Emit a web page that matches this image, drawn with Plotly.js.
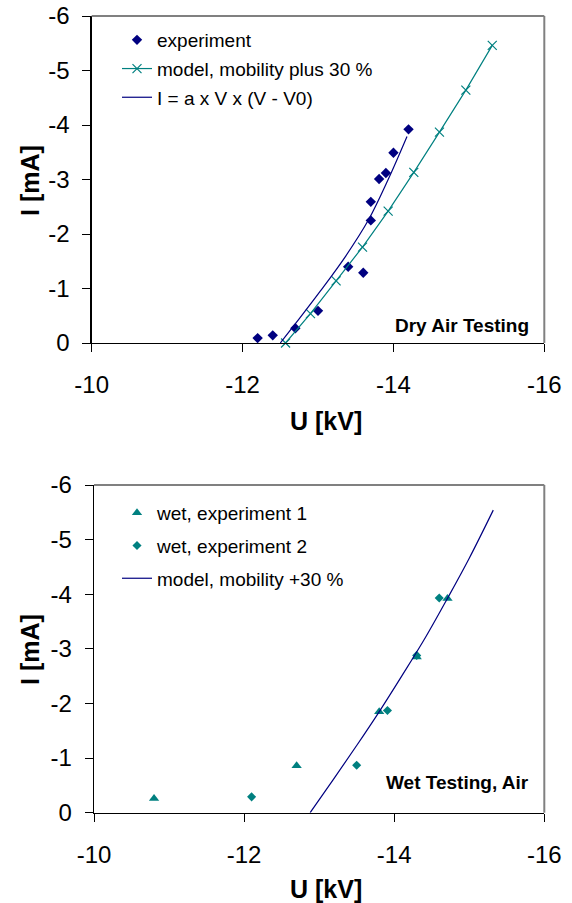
<!DOCTYPE html>
<html>
<head>
<meta charset="utf-8">
<script src="https://cdn.plot.ly/plotly-3.0.1.min.js"></script>
<style>html,body{margin:0;padding:0;background:#fff;}#chart{width:572px;height:903px;}</style>
</head>
<body>
<div id="chart"></div>
<script>
// ---- Top chart: Dry Air Testing ----
var dryExpU = [-12.20, -12.40, -12.70, -13.00, -13.40, -13.60, -13.70, -13.70, -13.81, -13.90, -14.00, -14.20];
var dryExpI = [-0.09, -0.14, -0.27, -0.59, -1.40, -1.29, -2.25, -2.59, -3.01, -3.12, -3.49, -3.92];
var dryModelU = [-12.57, -12.90, -13.24, -13.59, -13.93, -14.27, -14.61, -14.96, -15.31];
var dryModelI = [0, -0.54, -1.14, -1.76, -2.42, -3.13, -3.87, -4.64, -5.46];
var dryFitU = [-12.50, -12.76, -13.03, -13.37, -13.67, -13.93, -14.18];
var dryFitI = [0, -0.46, -0.95, -1.60, -2.26, -3.00, -3.79];

// ---- Bottom chart: Wet Testing, Air ----
var wet1U = [-10.80, -12.70, -13.80, -14.30, -14.71];
var wet1I = [-0.26, -0.86, -1.85, -2.85, -3.92];
var wet2U = [-12.10, -13.50, -13.91, -14.30, -14.60];
var wet2I = [-0.29, -0.87, -1.87, -2.88, -3.93];
var wetModelU = [-12.88, -13.19, -13.50, -13.81, -14.10, -14.40, -14.70, -15.00, -15.32];
var wetModelI = [0, -0.61, -1.23, -1.87, -2.50, -3.17, -3.90, -4.66, -5.54];

// ---- tick labels / texts ----
var xTicks = [-10, -12, -14, -16];
var yTicks = [0, -1, -2, -3, -4, -5, -6];
var xTitle = 'U [kV]';
var yTitle = 'I [mA]';

var NAVY = '#000080', TEAL = '#008080';
var FONT = 'Liberation Sans, Arial, sans-serif';
var W = 572, H = 903;
function px(x) { return x / W; }
function py(y) { return 1 - y / H; }

var traces = [
  {x: dryExpU, y: dryExpI, xaxis: 'x', yaxis: 'y', mode: 'markers', name: 'experiment',
   marker: {symbol: 'diamond', size: 8, color: NAVY}, legend: 'legend', legendgroup: 'a', cliponaxis: false},
  {x: dryModelU, y: dryModelI, xaxis: 'x', yaxis: 'y', mode: 'lines+markers', name: 'model, mobility plus 30 %',
   line: {color: TEAL, width: 1.2}, marker: {symbol: 'x-thin-open', size: 9, color: TEAL, line: {color: TEAL, width: 1.2}},
   legend: 'legend', legendgroup: 'b', cliponaxis: false},
  {x: dryFitU, y: dryFitI, xaxis: 'x', yaxis: 'y', mode: 'lines', name: 'I = a x V x (V - V0)',
   line: {color: NAVY, width: 1.2, shape: 'spline', smoothing: 1}, legend: 'legend', legendgroup: 'c'},

  {x: wet1U, y: wet1I, xaxis: 'x2', yaxis: 'y2', mode: 'markers', name: 'wet, experiment 1',
   marker: {symbol: 'triangle-up', size: 9, color: TEAL}, legend: 'legend2', legendgroup: 'd'},
  {x: wet2U, y: wet2I, xaxis: 'x2', yaxis: 'y2', mode: 'markers', name: 'wet, experiment 2',
   marker: {symbol: 'diamond', size: 7, color: TEAL}, legend: 'legend2', legendgroup: 'e'},
  {x: wetModelU, y: wetModelI, xaxis: 'x2', yaxis: 'y2', mode: 'lines', name: 'model, mobility +30 %',
   line: {color: NAVY, width: 1.2, shape: 'spline', smoothing: 1}, legend: 'legend2', legendgroup: 'f'}
];

function xax(domain, anchor) {
  return {domain: domain, anchor: anchor, range: [-10, -16], tickmode: 'array', tickvals: xTicks,
    ticktext: xTicks.map(String), showgrid: false, zeroline: false, showline: true, linecolor: '#000', linewidth: 1.3,
    ticks: 'outside', ticklen: 8, tickcolor: '#000', tickwidth: 1, ticklabelstandoff: 12,
    tickfont: {family: FONT, size: 24, color: '#000'}};
}
function yax(domain, anchor) {
  return {domain: domain, anchor: anchor, range: [0, -6], tickmode: 'array', tickvals: yTicks,
    ticktext: yTicks.map(String), showgrid: false, zeroline: false, showline: true, linecolor: '#000', linewidth: 1.3,
    ticks: 'outside', ticklen: 8, tickcolor: '#000', tickwidth: 1, ticklabelstandoff: 8,
    tickfont: {family: FONT, size: 24, color: '#000'}};
}

var grey = {color: '#808080', width: 2};
var layout = {
  width: W, height: H, margin: {l: 0, r: 0, t: 0, b: 0},
  paper_bgcolor: '#fff', plot_bgcolor: '#fff', showlegend: true,
  font: {family: FONT, color: '#000'},
  xaxis: xax([px(91.7), px(544.3)], 'y'),
  yaxis: yax([py(343), py(16)], 'x'),
  xaxis2: xax([px(94), px(544.3)], 'y2'),
  yaxis2: yax([py(812.7), py(485)], 'x2'),
  legend: {x: px(117), y: py(21), xanchor: 'left', yanchor: 'top', bgcolor: 'rgba(0,0,0,0)', borderwidth: 0,
    font: {family: FONT, size: 19, color: '#000'}, tracegroupgap: 1},
  legend2: {x: px(117), y: py(494), xanchor: 'left', yanchor: 'top', bgcolor: 'rgba(0,0,0,0)', borderwidth: 0,
    font: {family: FONT, size: 19, color: '#000'}, tracegroupgap: 5},
  shapes: [
    {type: 'line', xref: 'x domain', yref: 'y domain', x0: 0, x1: 1, y0: 1, y1: 1, line: grey},
    {type: 'line', xref: 'x domain', yref: 'y domain', x0: 1, x1: 1, y0: 0, y1: 1, line: grey},
    {type: 'line', xref: 'x2 domain', yref: 'y2 domain', x0: 0, x1: 1, y0: 1, y1: 1, line: grey},
    {type: 'line', xref: 'x2 domain', yref: 'y2 domain', x0: 1, x1: 1, y0: 0, y1: 1, line: grey}
  ],
  annotations: [
    {text: '<b>Dry Air Testing</b>', xref: 'paper', yref: 'paper', x: px(531), y: py(325.5), xanchor: 'right', yanchor: 'middle',
     showarrow: false, font: {family: FONT, size: 19, color: '#000'}},
    {text: '<b>Wet Testing, Air</b>', xref: 'paper', yref: 'paper', x: px(531), y: py(782.5), xanchor: 'right', yanchor: 'middle',
     showarrow: false, font: {family: FONT, size: 19, color: '#000'}},
    {text: '<b>' + xTitle + '</b>', xref: 'paper', yref: 'paper', x: px(326), y: py(421), xanchor: 'center', yanchor: 'middle',
     showarrow: false, font: {family: FONT, size: 25, color: '#000'}},
    {text: '<b>' + xTitle + '</b>', xref: 'paper', yref: 'paper', x: px(326), y: py(889), xanchor: 'center', yanchor: 'middle',
     showarrow: false, font: {family: FONT, size: 25, color: '#000'}},
    {text: '<b>' + yTitle + '</b>', xref: 'paper', yref: 'paper', x: px(30), y: py(181), xanchor: 'center', yanchor: 'middle',
     textangle: -90, showarrow: false, font: {family: FONT, size: 25, color: '#000'}},
    {text: '<b>' + yTitle + '</b>', xref: 'paper', yref: 'paper', x: px(30), y: py(650), xanchor: 'center', yanchor: 'middle',
     textangle: -90, showarrow: false, font: {family: FONT, size: 25, color: '#000'}}
  ]
};

Plotly.newPlot('chart', traces, layout, {displayModeBar: false, staticPlot: true});
</script>
</body>
</html>
